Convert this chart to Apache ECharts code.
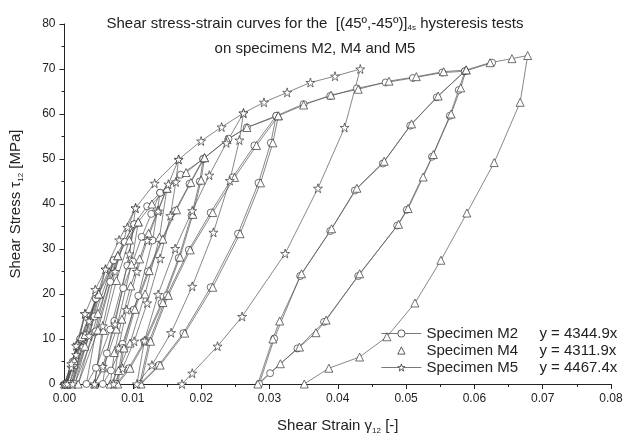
<!DOCTYPE html>
<html>
<head>
<meta charset="utf-8">
<script src="https://cdn.jsdelivr.net/npm/echarts@6/dist/echarts.min.js"></script>
<style>
html,body{margin:0;padding:0;background:#fff;}
#c{width:630px;height:440px;}
</style>
</head>
<body>
<div id="c"></div>
<script>
// ---- data (strain [-], shear stress [MPa]) ----
var seriesNames = ['Specimen M2', 'Specimen M4', 'Specimen M5'];
var fitLabels = ['y = 4344.9x', 'y = 4311.9x', 'y = 4467.4x'];
var xTicks = [0, 0.01, 0.02, 0.03, 0.04, 0.05, 0.06, 0.07, 0.08];
var yTicks = [0, 10, 20, 30, 40, 50, 60, 70, 80];

var m2Points = [
 [0,0],[0.0023,10],[0.0012,4.2],[0.0002,0],
 [0.0012,5],[0.0023,10],[0.0046,19],[0.0027,8],[0.0007,0],
 [0.0027,10.5],[0.0046,19],[0.0072,27.5],[0.0044,11.5],[0.0015,0],
 [0.0044,15],[0.0072,27.5],[0.0102,35.5],[0.0092,26.3],[0.0067,12.1],[0.0046,3.6],[0.0032,0],
 [0.0046,11.7],[0.0067,22.7],[0.0088,31.6],[0.0102,35.5],[0.0121,39.5],[0.014,42.5],[0.0129,31.9],[0.0108,19.6],[0.0085,8.9],[0.0068,3],[0.0056,0],
 [0.0062,6.8],[0.0073,14],[0.0086,21.3],[0.01,27.2],[0.0113,32.7],[0.0127,37.8],[0.014,42.5],[0.017,46.5],[0.0203,50],[0.0198,45],[0.0186,37.5],[0.0167,28],[0.0142,18],[0.0117,9.5],[0.0094,3.5],[0.0076,0],
 [0.0085,8],[0.0101,16.5],[0.0122,25],[0.0142,32],[0.0162,38.5],[0.0183,44.5],[0.0203,50],[0.024,54.5],[0.0267,57],[0.031,59.6],[0.0302,53.6],[0.0284,44.7],[0.0254,33.4],[0.0214,21.5],[0.0174,11.3],[0.0138,4.2],[0.011,0],
 [0.0124,9.5],[0.015,19.7],[0.0182,29.8],[0.0214,38.1],[0.0246,45.9],[0.0278,53],[0.031,59.6],[0.035,62.2],[0.0389,64],[0.0428,65.7],[0.047,67],[0.051,68],[0.0553,69.2],[0.0586,69.5],
 [0.0577,65.3],[0.0564,59.6],[0.0538,50.5],[0.0501,38.7],[0.0487,35.2],[0.043,24],[0.038,13.8],[0.0341,7.9],[0.0301,2.4],[0.0285,0],
 [0.0307,10.1],[0.0345,24],[0.0389,34],[0.0425,43],[0.0466,49],[0.0506,57.4],[0.0545,63.7],[0.0586,69.5],[0.0626,71.4]
];

var m4Points = [
 [0,0],[0.0025,10.5],[0.0014,4.4],[0.0003,0],
 [0.0014,5.2],[0.0025,10.5],[0.005,20],[0.003,8.4],[0.001,0],
 [0.003,11],[0.005,20],[0.0078,28.5],[0.0049,12],[0.002,0],
 [0.0049,15.7],[0.0078,28.5],[0.0108,36],[0.0098,26.6],[0.0076,12.2],[0.0057,3.6],[0.0044,0],
 [0.0057,11.9],[0.0076,23],[0.0095,32],[0.0108,36],[0.0128,40],[0.015,43.5],[0.0139,32.6],[0.0118,20],[0.0096,9.1],[0.0079,3],[0.0067,0],
 [0.0073,7],[0.0084,14.4],[0.0097,21.8],[0.011,27.8],[0.0123,33.5],[0.0137,38.7],[0.015,43.5],[0.0178,47],[0.0205,50.3],[0.02,45.3],[0.0188,37.7],[0.0169,28.2],[0.0144,18.1],[0.0119,9.6],[0.0096,3.5],[0.0078,0],
 [0.0087,8],[0.0103,16.6],[0.0124,25.2],[0.0144,32.2],[0.0164,38.7],[0.0185,44.8],[0.0205,50.3],[0.0238,54.3],[0.0267,57],[0.0313,59.6],[0.0305,53.6],[0.0287,44.7],[0.0257,33.4],[0.0217,21.5],[0.0176,11.3],[0.014,4.2],[0.0112,0],
 [0.0126,9.5],[0.0152,19.7],[0.0184,29.8],[0.0217,38.1],[0.0249,45.9],[0.0281,53],[0.0313,59.6],[0.035,62],[0.039,64.2],[0.043,65.5],[0.0475,67.3],[0.0515,68.3],[0.0555,69.4],[0.0588,69.8],
 [0.058,65.8],[0.0566,60],[0.054,51],[0.0525,46],[0.0503,39],[0.0489,35.5],[0.0432,24.5],[0.0383,14.2],[0.0368,11.4],[0.0344,8.2],[0.0316,4.5],[0.0283,0],
 [0.0305,10],[0.0315,14],[0.0347,24.5],[0.0391,34.5],[0.0428,43.5],[0.0468,49.5],[0.0508,57.8],[0.0547,64],[0.0588,69.8],[0.0623,71.4],[0.0655,72.3],[0.0678,73],
 [0.0667,62.6],[0.0629,49.2],[0.0589,38],[0.0551,27.5],[0.0513,18],[0.0472,10.5],[0.0432,6],[0.0387,3.5],[0.0351,0]
];

var m5Points = [
 [0,0],[0.0019,8.8],[0.001,3.7],[0.0001,0],
 [0.001,4.5],[0.0019,8.8],[0.003,15.6],[0.0017,6.5],[0.0004,0],
 [0.0017,8.5],[0.003,15.6],[0.0045,21],[0.006,25.5],[0.0036,10.7],[0.0012,0],
 [0.0036,14],[0.006,25.5],[0.008,32],[0.0104,39.1],[0.0095,28.9],[0.0074,13.3],[0.0056,3.9],[0.0044,0],
 [0.0056,12.9],[0.0074,25],[0.0092,34.8],[0.0104,39.1],[0.0132,44.6],[0.0167,49.9],[0.0163,44.9],[0.0155,37.4],[0.014,27.9],[0.0121,18],[0.0102,9.5],[0.0085,3.5],[0.0072,0],
 [0.0079,8],[0.0091,16.5],[0.0106,25],[0.0121,31.9],[0.0137,38.4],[0.0152,44.4],[0.0167,49.9],[0.02,54],[0.023,57.1],[0.0262,60.2],[0.0256,54.2],[0.0242,45.2],[0.0218,33.7],[0.0187,21.7],[0.0156,11.4],[0.0128,4.2],[0.0106,0],
 [0.0117,9.6],[0.0137,19.9],[0.0162,30.1],[0.0187,38.5],[0.0212,46.4],[0.0237,53.6],[0.0262,60.2],[0.0292,62.6],[0.0326,64.8],[0.036,67],[0.0396,68.4],[0.0433,70],
 [0.041,57],[0.0371,43.5],[0.0323,29],[0.026,15],[0.0224,8.4],[0.0187,2.4],[0.0172,0]
];

var STAR = 'path://M50,0 L61,35 L98,35 L68,57 L79,91 L50,70 L21,91 L32,57 L2,35 L39,35 Z';
var FONT = 'Liberation Sans, Arial, sans-serif';
var INK = '#222';

function makeSeries(name, data, symbol, size) {
  return {
    name: name, type: 'line', data: data,
    symbol: symbol, symbolSize: size, showAllSymbol: true,
    lineStyle: { color: '#555', width: 0.7 },
    itemStyle: { color: '#fff', borderColor: '#333', borderWidth: 0.7 },
    emphasis: { disabled: true }, animation: false
  };
}

var legendRich = {
  a: { fontSize: 15, width: 113, lineHeight: 15, color: INK, fontFamily: FONT },
  b: { fontSize: 15, lineHeight: 15, color: INK, fontFamily: FONT }
};

var chart = echarts.init(document.getElementById('c'), null, { renderer: 'canvas' });
chart.setOption({
  backgroundColor: '#fff',
  animation: false,
  textStyle: { fontFamily: FONT, color: INK },
  title: {
    left: 'center', top: 6,
    text: '{t|Shear stress-strain curves for the  [(45º,-45º)]}{s|4s}{t| hysteresis tests}\n{t|on specimens M2, M4 and M5}',
    textStyle: {
      fontWeight: 'normal',
      rich: {
        t: { fontSize: 15, fontWeight: 'normal', color: INK, fontFamily: FONT, lineHeight: 25 },
        s: { fontSize: 8, fontWeight: 'normal', color: INK, fontFamily: FONT, lineHeight: 25, padding: [9, 0, 0, 0] }
      }
    }
  },
  grid: { left: 64, right: 19, top: 24, bottom: 52, containLabel: false },
  legend: {
    orient: 'vertical', left: 376, top: 321,
    itemWidth: 40, itemHeight: 9, itemGap: 2,
    itemStyle: { color: '#fff', borderColor: '#333', borderWidth: 0.8 },
    lineStyle: { color: '#555', width: 0.8 },
    data: [
      { name: seriesNames[0] },
      { name: seriesNames[1], lineStyle: { opacity: 0, width: 0 } },
      { name: seriesNames[2] }
    ],
    formatter: function (n) { return '{a|' + n + '}{b|' + fitLabels[seriesNames.indexOf(n)] + '}'; },
    textStyle: { rich: legendRich, fontSize: 15, lineHeight: 15 }
  },
  xAxis: {
    type: 'value', min: xTicks[0], max: xTicks[xTicks.length - 1], interval: 0.01,
    name: '{a|Shear Strain }{g|γ}{s|12}{a| [-]}', nameLocation: 'middle', nameGap: 33,
    nameTextStyle: { rich: {
      a: { fontSize: 15, color: INK, fontFamily: FONT },
      g: { fontSize: 15, color: INK, fontFamily: FONT },
      s: { fontSize: 8, color: INK, fontFamily: FONT, padding: [10, 0, 0, 0] } } },
    axisLine: { lineStyle: { color: '#222', width: 1 } },
    axisTick: { length: 5, lineStyle: { color: '#222' } },
    minorTick: { show: true, splitNumber: 2, length: 3, lineStyle: { color: '#222' } },
    splitLine: { show: false },
    axisLabel: { fontSize: 12, color: INK, margin: 9, formatter: function (v) { return v.toFixed(2); } }
  },
  yAxis: {
    type: 'value', min: yTicks[0], max: yTicks[yTicks.length - 1], interval: 10,
    name: '{a|Shear Stress }{g|τ}{s|12}{a| [MPa]}', nameLocation: 'middle', nameGap: 40, nameRotate: 90,
    nameTextStyle: { rich: {
      a: { fontSize: 15, color: INK, fontFamily: FONT },
      g: { fontSize: 15, color: INK, fontFamily: FONT },
      s: { fontSize: 8, color: INK, fontFamily: FONT, padding: [10, 0, 0, 0] } } },
    axisLine: { show: true, lineStyle: { color: '#222', width: 1 } },
    axisTick: { show: true, length: 5, lineStyle: { color: '#222' } },
    minorTick: { show: true, splitNumber: 2, length: 3, lineStyle: { color: '#222' } },
    splitLine: { show: false },
    axisLabel: { fontSize: 12, color: INK, margin: 9 }
  },
  series: [
    makeSeries(seriesNames[0], m2Points, 'circle', 7),
    makeSeries(seriesNames[1], m4Points, 'triangle', 8),
    makeSeries(seriesNames[2], m5Points, STAR, 9)
  ]
});
</script>
</body>
</html>
